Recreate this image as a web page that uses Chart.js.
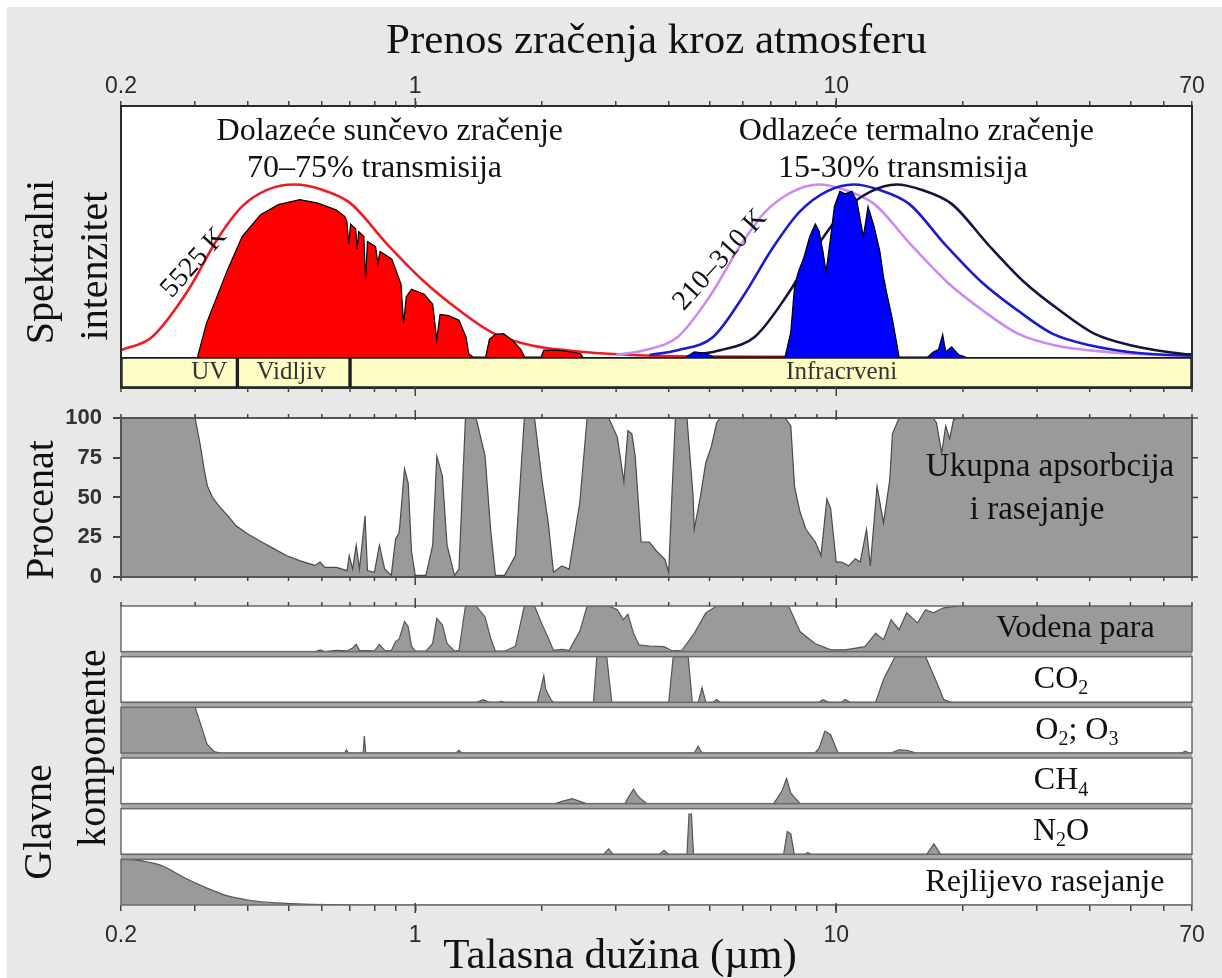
<!DOCTYPE html>
<html lang="sr">
<head>
<meta charset="utf-8">
<title>Prenos zračenja kroz atmosferu</title>
<script src="https://cdn.jsdelivr.net/npm/chart.js@4.4.1/dist/chart.umd.min.js"></script>
<style>
  html, body { margin: 0; padding: 0; background: #fff; }
  #pozadina { position: absolute; left: 7px; top: 7px; width: 1215px; height: 971px; background: #e8e8e8; }
  #grafikon { position: absolute; left: 0; top: 0; }
</style>
</head>
<body>
<div id="pozadina"></div>
<canvas id="grafikon" width="1222" height="978"></canvas>
<script>
const SERIF = "'Liberation Serif', 'Times New Roman', serif";
const SANS = "'Liberation Sans', Arial, sans-serif";

// x osa: talasna duzina (µm), logaritamska
const xPodjela = [0.2, 0.3, 0.4, 0.5, 0.6, 0.7, 0.8, 0.9, 1, 2, 3, 4, 5, 6, 7, 8, 9, 10, 20, 30, 40, 50, 60, 70];
const xOznake = [0.2, 1, 10, 70];
const xGlavne = [1, 10];
const procenatPodjela = [0, 25, 50, 75, 100];

// spektralni pojasevi
const pojasevi = ["UV", "Vidljiv", "Infracrveni"];
const pojasGranice = [[0.2, 0.378], [0.378, 0.70], [0.70, 70]];

// spektralni intenzitet (relativno, 0-100) - [µm, vrijednost]
const crnoTijelo5525 = [[0.2, 2.7], [0.237, 8], [0.289, 26.7], [0.338, 46.7], [0.388, 60], [0.446, 66.7], [0.517, 68.7], [0.599, 66.7], [0.701, 61.3], [0.854, 45.3], [1.04, 30.7], [1.27, 18.7], [1.54, 9.3], [1.88, 4.7], [2.52, 2], [3.39, 0.7], [5, 0.2], [8, 0.05]];
const sunceNaTlu = [[0.304, 0], [0.319, 13.3], [0.358, 34.7], [0.388, 48], [0.429, 56.7], [0.473, 60.7], [0.532, 62.7], [0.587, 61.3], [0.648, 58.7], [0.680, 56], [0.688, 54], [0.695, 45], [0.702, 53], [0.722, 51], [0.728, 43], [0.734, 50], [0.755, 48], [0.762, 30.7], [0.770, 46], [0.805, 44], [0.815, 37.3], [0.825, 42], [0.880, 39], [0.898, 35], [0.925, 29], [0.938, 13.3], [0.952, 24], [0.98, 27], [1.05, 25], [1.1, 21], [1.125, 7], [1.145, 17], [1.2, 16.5], [1.27, 14.7], [1.32, 8], [1.34, 1.3], [1.37, 0], [1.47, 0], [1.50, 7], [1.55, 9], [1.62, 9.3], [1.70, 6.7], [1.78, 3], [1.82, 0], [1.99, 0], [2.02, 2.7], [2.2, 2.6], [2.4, 1.8], [2.47, 1.3], [2.5, 0]];
const crnoTijelo310 = [[3.0, 0.8], [3.5, 2.7], [4.2, 8], [5.0, 24], [5.9, 44], [6.8, 58], [7.9, 66], [9.1, 68.7], [10.5, 66.5], [12.3, 61], [15, 45], [18.3, 30], [22.3, 18.5], [27, 9.3], [33, 4.7], [44, 2], [60, 0.7], [70, 0.4]];
const crnoTijelo260 = [[3.6, 0.8], [4.2, 2.7], [5.1, 8], [6.0, 24], [7.1, 44], [8.2, 58], [9.5, 66], [11.0, 68.7], [12.7, 66.5], [14.9, 61], [18.1, 45], [22.1, 30], [27, 18.5], [32.6, 9.3], [40, 4.7], [53, 1.5], [70, 0.6]];
const crnoTijelo210 = [[4.6, 0.8], [5.3, 2.7], [6.4, 8], [7.6, 24], [9.0, 44], [10.4, 58], [12.1, 66], [13.9, 68.7], [16.0, 66.5], [18.8, 61], [22.9, 45], [27.9, 30], [34, 18.5], [41, 9.3], [50, 4.7], [67, 1.2], [70, 1]];
const termalnoIzlaz = [[4.4, 0], [4.6, 2], [4.9, 1.5], [5.1, 0], [7.56, 0], [7.8, 10], [7.96, 28], [8.13, 34], [8.39, 40], [8.65, 48], [8.92, 53], [9.11, 50], [9.3, 42], [9.46, 34], [9.65, 45], [9.9, 60], [10.2, 66], [10.5, 65], [10.9, 66], [11.2, 62], [11.6, 48], [11.9, 60], [12.3, 52], [12.7, 42], [12.95, 32], [13.2, 25], [13.6, 15], [13.9, 6], [14.1, 0], [16.5, 0], [17, 2], [17.5, 3], [17.9, 9], [18.2, 2], [18.8, 4], [19.5, 1], [20.3, 0]];

// ukupna apsorbcija i rasejanje (%)
const ukupnaApsorbcija = [[0.2, 100], [0.3, 100], [0.305, 90], [0.309, 82], [0.315, 68], [0.321, 57], [0.33, 50], [0.341, 45], [0.36, 38], [0.376, 32], [0.40, 27], [0.432, 22], [0.46, 18], [0.494, 13.5], [0.535, 10], [0.578, 7.3], [0.594, 9.4], [0.61, 6], [0.65, 6], [0.689, 4], [0.697, 13.5], [0.71, 5], [0.724, 20], [0.737, 5], [0.76, 38.5], [0.77, 4], [0.80, 3], [0.822, 20], [0.846, 5], [0.877, 1], [0.898, 24], [0.916, 28], [0.943, 68], [0.962, 59], [0.98, 15.6], [1.0, 1], [1.06, 1], [1.10, 20], [1.125, 76], [1.16, 63.5], [1.19, 20], [1.24, 1], [1.27, 5], [1.316, 100], [1.395, 100], [1.465, 76], [1.51, 30], [1.55, 1], [1.63, 1], [1.73, 13.5], [1.816, 100], [1.92, 100], [2.0, 61], [2.07, 34], [2.13, 3], [2.23, 7], [2.32, 5], [2.46, 47], [2.56, 100], [2.88, 100], [3.02, 88], [3.13, 60], [3.2, 92], [3.27, 90], [3.33, 76], [3.44, 22], [3.6, 22], [3.75, 16], [3.92, 11], [4.0, 3], [4.07, 51], [4.15, 100], [4.42, 100], [4.57, 51], [4.6, 30], [4.76, 51], [4.9, 72], [5.05, 82], [5.2, 97], [5.3, 100], [7.56, 100], [7.8, 95], [7.96, 57], [8.2, 41], [8.47, 30], [8.92, 22], [9.2, 13.5], [9.5, 49], [9.7, 43], [10.0, 9.4], [10.3, 9.4], [10.7, 7], [11.1, 11.5], [11.4, 9.4], [11.8, 30], [12.05, 7], [12.5, 57], [12.95, 34], [13.4, 61], [13.6, 90], [14.1, 100], [17.0, 100], [17.3, 97], [17.8, 78], [18.2, 95], [18.6, 87], [19.0, 99], [19.5, 100], [70, 100]];

// glavne komponente (%)
const komponente = ["Vodena para", "CO_2", "O_2; O_3", "CH_4", "N_2O", "Rejlijevo rasejanje"];
const vodenaPara = [[0.2, 0], [0.58, 0], [0.594, 4], [0.61, 0], [0.65, 3], [0.69, 2], [0.71, 8], [0.724, 16], [0.737, 3], [0.80, 2], [0.822, 16], [0.846, 3], [0.877, 2], [0.898, 22], [0.916, 28], [0.943, 66], [0.962, 55], [0.98, 12], [1.0, 1], [1.06, 1], [1.10, 18], [1.125, 73], [1.16, 59], [1.19, 18], [1.24, 1], [1.27, 3], [1.316, 100], [1.395, 100], [1.465, 76], [1.51, 30], [1.55, 1], [1.63, 1], [1.73, 12], [1.816, 100], [1.92, 100], [2.0, 60], [2.07, 30], [2.13, 3], [2.23, 5], [2.32, 3], [2.46, 45], [2.56, 100], [2.88, 100], [3.02, 92], [3.12, 70], [3.2, 82], [3.3, 40], [3.4, 15], [3.6, 12], [3.9, 11], [4.07, 2], [4.3, 3], [4.6, 40], [4.9, 85], [5.2, 100], [7.7, 100], [7.9, 78], [8.2, 44], [8.9, 18], [9.7, 4], [10.5, 4], [11.7, 11], [12.4, 40], [12.95, 26], [13.5, 70], [14.1, 48], [14.7, 85], [15.6, 63], [16.3, 92], [17, 85], [18, 96], [19.6, 100], [70, 100]];
const ugljenDioksid = [[0.2, 0], [1.40, 0], [1.45, 6], [1.5, 0], [1.58, 0], [1.6, 2], [1.63, 0], [1.95, 0], [1.99, 32], [2.02, 59], [2.04, 30], [2.06, 21], [2.1, 6], [2.13, 0], [2.65, 0], [2.7, 100], [2.85, 100], [2.93, 0], [4.0, 0], [4.1, 100], [4.45, 100], [4.55, 0], [4.7, 0], [4.8, 32], [4.9, 0], [5.1, 0], [5.2, 6], [5.3, 0], [9.1, 0], [9.3, 6], [9.6, 0], [10.3, 0], [10.5, 6], [10.8, 0], [12.4, 0], [12.95, 50], [13.8, 100], [16.3, 100], [17.3, 45], [18, 6], [18.8, 0], [70, 0]];
const kiseonikOzon = [[0.2, 100], [0.3, 100], [0.31, 60], [0.32, 20], [0.333, 3], [0.345, 0], [0.68, 0], [0.686, 7], [0.695, 0], [0.752, 0], [0.757, 37], [0.763, 0], [1.25, 0], [1.27, 6], [1.29, 0], [4.6, 0], [4.7, 15], [4.8, 0], [8.9, 0], [9.1, 10], [9.4, 48], [9.7, 40], [10.1, 0], [13.5, 0], [14.1, 7], [14.7, 6], [15.5, 0], [66, 0], [67.5, 4], [69, 0], [70, 0]];
const metan = [[0.2, 0], [2.15, 0], [2.23, 5], [2.36, 11], [2.46, 5], [2.55, 0], [3.15, 0], [3.22, 16], [3.3, 32], [3.36, 20], [3.42, 12], [3.55, 0], [7.1, 0], [7.25, 12], [7.45, 30], [7.62, 55], [7.8, 23], [8.05, 9], [8.2, 0], [70, 0]];
const azotOksid = [[0.2, 0], [2.8, 0], [2.88, 12], [2.95, 0], [3.8, 0], [3.9, 9], [4.0, 0], [4.42, 0], [4.47, 88], [4.53, 88], [4.58, 0], [7.5, 0], [7.65, 50], [7.8, 45], [7.95, 0], [8.45, 0], [8.56, 4], [8.7, 0], [16.4, 0], [17.06, 23], [17.7, 0], [70, 0]];
const rejlijevo = [[0.2, 100], [0.215, 99], [0.235, 93], [0.252, 85], [0.28, 62], [0.318, 38], [0.358, 20], [0.4, 11], [0.467, 4.5], [0.57, 1.5], [0.84, 0], [70, 0]];

const komponentePodaci = [vodenaPara, ugljenDioksid, kiseonikOzon, metan, azotOksid, rejlijevo];
const komponenteOse = ["yH2O", "yCO2", "yO3", "yCH4", "yN2O", "yRay"];

// raspored panela odozgo nadolje (visine u px)
const raspored = [
  ["ySpec", 251], ["yBand", 31], ["razmak1", 30], ["yPct", 159], ["razmak2", 29],
  ["yH2O", 45.67], ["r1", 5], ["yCO2", 45.67], ["r2", 5], ["yO3", 45.67], ["r3", 5],
  ["yCH4", 45.67], ["r4", 5], ["yN2O", 45.67], ["r5", 5], ["yRay", 45.67],
];

function uXY(niz) {
  return niz.map(([x, y]) => ({ x: x, y: y }));
}

function crtajTekst(ctx, tekst, x, y, vel, rot, boja) {
  const dijelovi = [];
  tekst.split(/(_\d)/).forEach((d) => {
    if (!d) return;
    if (d[0] === "_") dijelovi.push({ t: d.slice(1), sub: true });
    else dijelovi.push({ t: d, sub: false });
  });
  const font = (sub) => (sub ? Math.round(vel * 0.62) : vel) + "px " + SERIF;
  ctx.save();
  ctx.translate(x, y);
  if (rot) ctx.rotate((rot * Math.PI) / 180);
  ctx.fillStyle = boja || "#111";
  ctx.textBaseline = "middle";
  ctx.textAlign = "left";
  let w = 0;
  for (const d of dijelovi) {
    ctx.font = font(d.sub);
    d.w = ctx.measureText(d.t).width;
    w += d.w;
  }
  let px = -w / 2;
  for (const d of dijelovi) {
    ctx.font = font(d.sub);
    ctx.fillText(d.t, px, d.sub ? vel * 0.3 : 0);
    px += d.w;
  }
  ctx.restore();
}

const okviri = {
  id: "okviri",
  beforeDraw(chart, args, o) {
    const { ctx, chartArea: ca, scales: s } = chart;
    ctx.save();
    const k0 = s[komponenteOse[0]];
    const k1 = s[komponenteOse[komponenteOse.length - 1]];
    ctx.fillStyle = "#a8a8a8";
    ctx.fillRect(ca.left, k0.top, ca.width, k1.bottom - k0.top);
    ctx.fillStyle = "#fff";
    for (const p of o.paneli) {
      const t = s[p.od].top;
      const b = s[p.do].bottom;
      ctx.fillRect(ca.left, t, ca.width, b - t);
    }
    ctx.restore();
  },
  afterDatasetsDraw(chart, args, o) {
    const { ctx, chartArea: ca, scales: s } = chart;
    ctx.save();
    for (const p of o.paneli) {
      const t = s[p.od].top;
      const b = s[p.do].bottom;
      ctx.strokeStyle = p.boja;
      ctx.lineWidth = p.sirina;
      ctx.strokeRect(ca.left, t, ca.width, b - t);
    }
    // kratke crtice na unutrasnjim ivicama panela
    ctx.strokeStyle = "#444";
    ctx.lineWidth = 1.5;
    const ivice = [
      [s.yBand.bottom, 1], [s.yPct.top, -1], [s.yPct.bottom, 1], [s[komponenteOse[0]].top, -1],
    ];
    const sveIvice = ivice.concat([[ca.top, -1], [ca.bottom, 1]]);
    ctx.beginPath();
    for (const v of xPodjela) {
      const px = s.x.getPixelForValue(v);
      for (const [y, d] of ivice) {
        ctx.moveTo(px, y);
        ctx.lineTo(px, y + 4 * d);
      }
    }
    // duze crtice za 1 i 10
    for (const v of xGlavne) {
      const px = s.x.getPixelForValue(v);
      for (const [y, d] of sveIvice) {
        ctx.moveTo(px, y - 2 * d);
        ctx.lineTo(px, y + 8 * d);
      }
    }
    for (const v of procenatPodjela) {
      const py = s.yPct.getPixelForValue(v);
      ctx.moveTo(ca.right, py);
      ctx.lineTo(ca.right + 6, py);
    }
    ctx.stroke();
    ctx.restore();
  },
};

const natpisi = {
  id: "natpisi",
  afterDatasetsDraw(chart, args, o) {
    const { ctx, scales: s } = chart;
    for (const n of o.stavke) {
      const px = n.lam !== undefined ? s.x.getPixelForValue(n.lam) : n.px;
      let py = n.py;
      if (n.os) {
        const os = s[n.os];
        py = n.val !== undefined ? os.getPixelForValue(n.val) : (os.top + os.bottom) / 2;
      }
      crtajTekst(ctx, n.tekst, px, py, n.vel, n.rot, n.boja);
    }
  },
};

function logOsa(pozicija, visina, naslov) {
  return {
    type: "logarithmic",
    position: pozicija,
    min: 0.2,
    max: 70,
    afterBuildTicks: (osa) => {
      osa.ticks = xPodjela.map((v) => ({ value: v }));
    },
    afterFit: (osa) => {
      osa.height = visina;
    },
    border: { display: false },
    grid: { drawOnChartArea: false, drawTicks: true, tickLength: pozicija === "top" ? 5 : 6, color: "#444", lineWidth: 1.5 },
    ticks: {
      autoSkip: false,
      maxRotation: 0,
      minRotation: 0,
      padding: pozicija === "top" ? 1 : 11,
      color: "#2a2a2a",
      font: { family: SANS, size: 23 },
      callback: (v) => (xOznake.includes(v) ? String(v) : ""),
    },
    title: naslov,
  };
}

const skale = {
  x: logOsa("bottom", 73, { display: false }),
  xTop: logOsa("top", 106, {
    display: true,
    text: "Prenos zračenja kroz atmosferu",
    color: "#111",
    font: { family: SERIF, size: 43, lineHeight: 1.2 },
    padding: { top: 16, bottom: 0 },
  }),
};

raspored.forEach(([id, h], i) => {
  const osa = {
    type: "linear",
    position: "left",
    stack: "paneli",
    stackWeight: h,
    weight: raspored.length - i,
    min: 0,
    max: 100,
    afterFit: (o) => {
      o.width = 121;
    },
    border: { display: false },
    grid: { display: false },
    ticks: { display: false },
  };
  if (id === "yBand") {
    osa.type = "category";
    osa.labels = ["pojas"];
    osa.offset = true;
    delete osa.min;
    delete osa.max;
  }
  if (id === "yPct") {
    osa.afterBuildTicks = (o) => {
      o.ticks = procenatPodjela.map((v) => ({ value: v }));
    };
    osa.grid = { display: true, drawOnChartArea: false, drawTicks: true, tickLength: 8, color: "#444", lineWidth: 2 };
    osa.ticks = { display: true, autoSkip: false, padding: 11, color: "#333", font: { family: SANS, size: 22, weight: "bold" } };
  }
  skale[id] = osa;
});

function povrsina(podaci, os, boja, ivica, red, glatko) {
  return {
    type: "line",
    data: uXY(podaci),
    xAxisID: "x",
    yAxisID: os,
    backgroundColor: boja,
    borderColor: ivica,
    borderWidth: 1.2,
    fill: "origin",
    pointRadius: 0,
    tension: 0,
    cubicInterpolationMode: glatko ? "monotone" : "default",
    order: red,
  };
}

function kriva(podaci, boja, red) {
  return {
    type: "line",
    data: uXY(podaci),
    xAxisID: "x",
    yAxisID: "ySpec",
    borderColor: boja,
    borderWidth: 2.6,
    fill: false,
    pointRadius: 0,
    cubicInterpolationMode: "monotone",
    order: red,
  };
}

const skupovi = [
  povrsina(termalnoIzlaz, "ySpec", "#0000ff", "#000", 1),
  kriva(crnoTijelo310, "#c98cf2", 4),
  kriva(crnoTijelo260, "#1c1cc8", 3),
  kriva(crnoTijelo210, "#14143c", 2),
  povrsina(sunceNaTlu, "ySpec", "#ff0000", "#000", 5),
  kriva(crnoTijelo5525, "#ee1c24", 6),
  povrsina(ukupnaApsorbcija, "yPct", "#9a9a9a", "#4a4a4a", 7),
];
komponentePodaci.forEach((p, i) => {
  skupovi.push(povrsina(p, komponenteOse[i], "#9a9a9a", "#555", 8 + i, p === rejlijevo));
});
pojasevi.forEach((naziv, i) => {
  skupovi.push({
    type: "bar",
    label: naziv,
    indexAxis: "y",
    xAxisID: "x",
    yAxisID: "yBand",
    data: [pojasGranice[i]],
    backgroundColor: "#fcfcc4",
    borderColor: "#1a1a1a",
    borderWidth: 2,
    borderSkipped: false,
    grouped: false,
    barPercentage: 1,
    categoryPercentage: 1,
    order: 20,
  });
});

const paneli = [{ od: "ySpec", do: "yBand", boja: "#2a2a2a", sirina: 2 }, { od: "yPct", do: "yPct", boja: "#555", sirina: 2 }].concat(
  komponenteOse.map((id) => ({ od: id, do: id, boja: "#6a6a6a", sirina: 1.5 }))
);

const stavke = [
  { tekst: "Dolazeće sunčevo zračenje", lam: 0.87, os: "ySpec", val: 90, vel: 32 },
  { tekst: "70–75% transmisija", lam: 0.80, os: "ySpec", val: 75, vel: 32 },
  { tekst: "5525 K", lam: 0.298, os: "ySpec", val: 37.5, vel: 28, rot: -48 },
  { tekst: "Odlazeće termalno zračenje", lam: 15.5, os: "ySpec", val: 90, vel: 32 },
  { tekst: "15-30% transmisija", lam: 14.4, os: "ySpec", val: 75, vel: 32 },
  { tekst: "210–310 K", lam: 5.3, os: "ySpec", val: 38.6, vel: 28, rot: -48 },
  { tekst: pojasevi[0], lam: 0.324, os: "yBand", vel: 25, boja: "#333" },
  { tekst: pojasevi[1], lam: 0.507, os: "yBand", vel: 25, boja: "#333" },
  { tekst: pojasevi[2], lam: 10.3, os: "yBand", vel: 25, boja: "#333" },
  { tekst: "Ukupna apsorbcija", lam: 32.2, os: "yPct", val: 69, vel: 33 },
  { tekst: "i rasejanje", lam: 30.0, os: "yPct", val: 42, vel: 33 },
  { tekst: "Spektralni", px: 42, py: 262, vel: 40, rot: -90 },
  { tekst: "intenzitet", px: 96, py: 266, vel: 40, rot: -90 },
  { tekst: "Procenat", px: 42, py: 510, vel: 40, rot: -90 },
  { tekst: "Glavne", px: 40, py: 822, vel: 40, rot: -90 },
  { tekst: "komponente", px: 94, py: 748, vel: 40, rot: -90 },
  { tekst: "Talasna dužina (µm)", px: 620, py: 957, vel: 43 },
];
const komponenteLam = [37, 34.2, 37.3, 34.2, 34.2, 31.3];
komponente.forEach((naziv, i) => {
  stavke.push({ tekst: naziv, lam: komponenteLam[i], os: komponenteOse[i], vel: 32 });
});

new Chart(document.getElementById("grafikon"), {
  type: "line",
  data: { datasets: skupovi },
  plugins: [okviri, natpisi],
  options: {
    responsive: false,
    animation: false,
    events: [],
    layout: { padding: { left: 0, right: 30, top: 0, bottom: 0 } },
    plugins: {
      legend: { display: false },
      tooltip: { enabled: false },
      okviri: { paneli: paneli },
      natpisi: { stavke: stavke },
    },
    scales: skale,
  },
});
</script>
</body>
</html>
